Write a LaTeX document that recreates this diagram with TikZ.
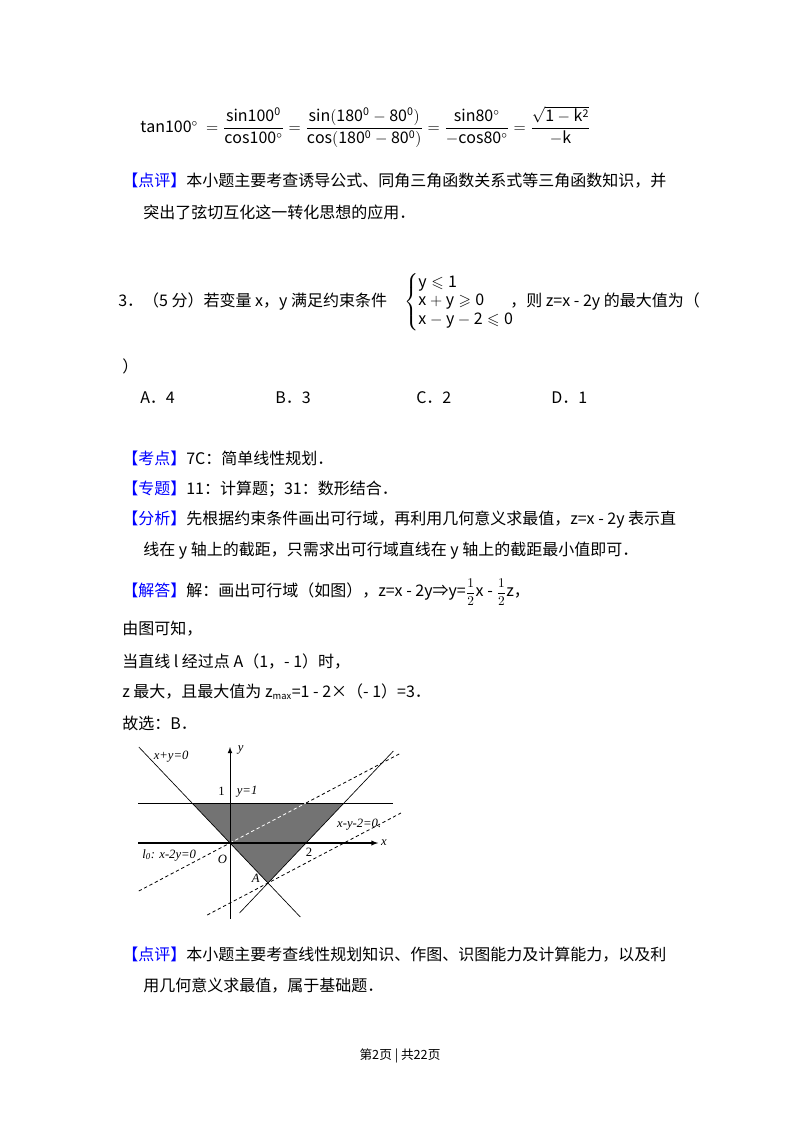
\documentclass[tikz,border=0pt]{standalone}
\usepackage{amsmath,amssymb}
\usepackage{fontspec}
\setmainfont{Noto Sans CJK SC}
\newfontfamily\tms{Liberation Serif}
\begin{document}
\begin{tikzpicture}[x=0.75pt,y=-0.75pt,
  txt/.style={anchor=west,inner sep=0pt,font=\fontsize{12}{14}\selectfont},
  lbl/.style={inner sep=0pt,font=\fontsize{9.5}{11}\selectfont\tms\itshape},
  ln/.style={line width=0.5pt},
  dsh/.style={line width=0.6pt,dashed,dash pattern=on 2.5pt off 2pt}]
\useasboundingbox (0,0) rectangle (800,1132);
\def\bl#1{\textcolor{blue}{【#1】}}
\node[txt] (f1) at (140,127) {$\mathrm{tan100^\circ}\ =\dfrac{\mathrm{sin100^0}}{\mathrm{cos100^\circ}}=\dfrac{\mathrm{sin(180^0-80^0)}}{\mathrm{cos(180^0-80^0)}}=\dfrac{\mathrm{sin80^\circ}}{\mathrm{-cos80^\circ}}=\dfrac{\sqrt{\mathrm{1-k^2}}}{\mathrm{-k}}$};
\node[txt] (p1) at (122,181) {\bl{点评}本小题主要考查诱导公式、同角三角函数关系式等三角函数知识，并};
\node[txt] (p2) at (143,212) {突出了弦切互化这一转化思想的应用．};
\node[txt] (q1) at (118,302) {3．（5 分）若变量 x，y 满足约束条件};
\node[txt] (q2) at (404,302) {$\left\{\begin{array}{@{}l@{}}\mathrm{y\leqslant1}\\ \mathrm{x+y\geqslant0}\\ \mathrm{x-y-2\leqslant0}\end{array}\right.$};
\node[txt] (q3) at (510,302) {，则 z=x - 2y 的最大值为（};
\node[txt] (q4) at (122,366) {）};
\node[txt] (oa) at (140,398) {A．4};
\node[txt] (ob) at (275,398) {B．3};
\node[txt] (oc) at (416,398) {C．2};
\node[txt] (od) at (551,398) {D．1};
\node[txt] (k1) at (122,458) {\bl{考点}7C：简单线性规划．};
\node[txt] (k2) at (122,489) {\bl{专题}11：计算题；31：数形结合．};
\node[txt] (k3) at (122,520) {\bl{分析}先根据约束条件画出可行域，再利用几何意义求最值，z=x - 2y 表示直};
\node[txt] (k4) at (143,551) {线在 y 轴上的截距，只需求出可行域直线在 y 轴上的截距最小值即可．};
\node[txt] (s1) at (122,592) {\bl{解答}解：画出可行域（如图），z=x - 2y⇒y={\fontsize{10}{12}\selectfont$\dfrac{1}{2}$}x - {\fontsize{10}{12}\selectfont$\dfrac{1}{2}$}z，};
\node[txt] (s2) at (122,629) {由图可知，};
\node[txt] (s3) at (122,661) {当直线 l 经过点 A（1，- 1）时，};
\node[txt] (s4) at (122,692) {z 最大，且最大值为 z\textsubscript{\fontsize{7}{8}\selectfont max}=1 - 2×（- 1）=3．};
\node[txt] (s5) at (122,723) {故选：B．};
\begin{scope}[shift={(230,843)},x=28.5pt,y=30pt]
  \coordinate (O) at (0,0);
  \coordinate (P1) at (-1,1); \coordinate (P2) at (3,1); \coordinate (A) at (1,-1);
  \coordinate (Q) at (2,1);
  \fill[black!55] (P1) -- (P2) -- (A) -- (O) -- cycle;
  \coordinate (h1) at (-2.42,1); \coordinate (h2) at (4.3,1);
  \coordinate (a1) at (-2.4,2.4); \coordinate (a2) at (1.85,-1.85);
  \coordinate (b1) at (0.25,-1.75); \coordinate (b2) at (4.3,2.3);
  \coordinate (c1) at (-2.4,-1.2); \coordinate (c2) at (4.5,2.25);
  \coordinate (d1) at (-0.6,-1.8); \coordinate (d2) at (4.5,0.75);
  \coordinate (xa) at (-2.42,0); \coordinate (xb) at (3.9,0);
  \coordinate (ya) at (0,-1.9); \coordinate (yb) at (0,2.4);
  \draw[ln] (h1) -- (h2);
  \draw[ln] (a1) -- (a2);
  \draw[ln] (b1) -- (b2);
  \draw[dsh,black] (c1) -- (O);
  \draw[dsh,black] (Q) -- (c2);
  \draw[dsh,white] (O) -- (Q);
  \draw[dsh] (d1) -- (d2);
  \draw[line width=0.8pt,-latex] (xa) -- (xb);
  \draw[line width=0.6pt,-latex] (ya) -- (yb);
  \node[lbl] (lxy) at (-1.55,2.15) {x+y=0};
  \node[lbl,font=\fontsize{9.5}{11}\selectfont\tms] (l1) at (-0.22,1.28) {1};
  \node[lbl] (ly1) at (0.45,1.28) {y=1};
  \node[lbl] (lb) at (3.4,0.45) {x-y-2=0.};
  \node[lbl] (lx) at (4.05,0) {x};
  \node[lbl] (ly) at (0.28,2.33) {y};
  \node[lbl,font=\fontsize{9.5}{11}\selectfont\tms] (l2) at (2.08,-0.22) {2};
  \node[lbl] (lO) at (-0.2,-0.42) {O};
  \node[lbl] (lA) at (0.68,-0.88) {A};
  \node[lbl] (l0) at (-1.6,-0.3) {l\textsubscript{0}: x-2y=0};
\end{scope}
\node[txt] (e1) at (122,955) {\bl{点评}本小题主要考查线性规划知识、作图、识图能力及计算能力，以及利};
\node[txt] (e2) at (143,986) {用几何意义求最值，属于基础题．};
\node[inner sep=0pt,font=\fontsize{9.5}{11}\selectfont] (ft) at (400,1056) {第2页 | 共22页};
\end{tikzpicture}
\end{document}
